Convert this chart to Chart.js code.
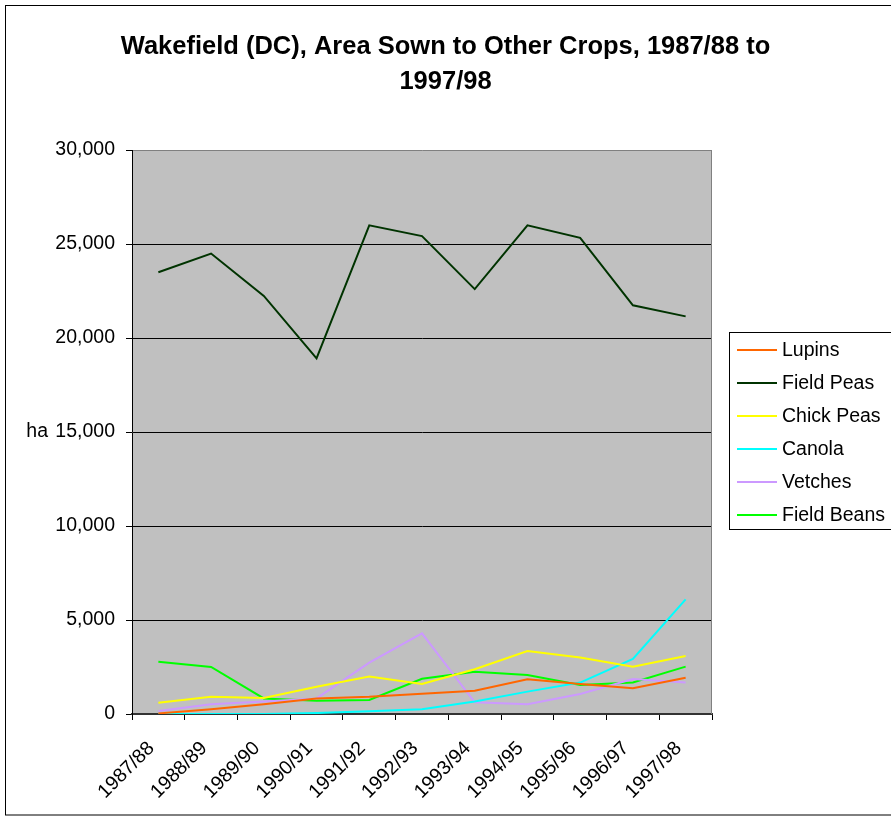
<!DOCTYPE html>
<html>
<head>
<meta charset="utf-8">
<script src="https://cdn.jsdelivr.net/npm/chart.js@4.4.1/dist/chart.umd.min.js"></script>
<style>
  html,body{margin:0;padding:0;background:#fff;}
  #wrap{width:891px;height:821px;}
</style>
</head>
<body>
<div id="wrap"><canvas id="cropChart" width="891" height="821"></canvas></div>
<script>
/* ── DATA (ha) ── */
const seasons = ['1987/88','1988/89','1989/90','1990/91','1991/92','1992/93','1993/94','1994/95','1995/96','1996/97','1997/98'];
const lupins     = [30, 250, 520, 830, 920, 1080, 1240, 1850, 1600, 1370, 1930];
const fieldPeas  = [23500, 24490, 22240, 18920, 25990, 25420, 22600, 25990, 25330, 21740, 21150];
const chickPeas  = [600, 920, 850, 1450, 2000, 1600, 2380, 3350, 3000, 2520, 3090];
const canola     = [0, 0, 0, 50, 150, 250, 660, 1190, 1670, 2930, 6100];
const vetches    = [160, 520, 660, 830, 2730, 4290, 620, 520, 1060, 1860, 1680];
const fieldBeans = [2780, 2500, 830, 700, 750, 1870, 2250, 2070, 1540, 1680, 2520];
const yTicks     = [0, 5000, 10000, 15000, 20000, 25000, 30000];

const titleLines = ['Wakefield (DC), Area Sown to Other Crops, 1987/88 to', '1997/98'];
const yUnit = 'ha';

const FONT = '"Liberation Sans", Arial, sans-serif';

// narrow bold face for the title if the system has it
function titleFont() {
  const c = document.createElement('canvas').getContext('2d');
  c.font = 'bold 29px "Liberation Sans Narrow", monospace';
  const a = c.measureText(titleLines[0]).width;
  c.font = 'bold 29px monospace';
  const b = c.measureText(titleLines[0]).width;
  return a !== b ? {family:'"Liberation Sans Narrow"', size:29} : {family:FONT, size:25.5};
}

const series = [
  {label:'Lupins',      data:lupins,     color:'#FF6600'},
  {label:'Field Peas',  data:fieldPeas,  color:'#003300'},
  {label:'Chick Peas',  data:chickPeas,  color:'#FFFF00'},
  {label:'Canola',      data:canola,     color:'#00FFFF'},
  {label:'Vetches',     data:vetches,    color:'#CC99FF'},
  {label:'Field Beans', data:fieldBeans, color:'#00FF00'}
];

/* ── plot background, frames, unit label, legend ── */
const decor = {
  id:'decor',
  beforeDraw(chart) {
    const {ctx, chartArea:a} = chart;
    ctx.save();
    ctx.fillStyle = '#fff';
    ctx.fillRect(0, 0, chart.width, chart.height);
    ctx.fillStyle = '#C0C0C0';
    ctx.fillRect(a.left, a.top, a.right - a.left, a.bottom - a.top);
    ctx.restore();
  },
  afterDraw(chart) {
    const {ctx, chartArea:a} = chart;
    ctx.save();
    // right edge of plot area
    ctx.strokeStyle = '#808080'; ctx.lineWidth = 1;
    ctx.beginPath(); ctx.moveTo(a.right - 0.5, a.top); ctx.lineTo(a.right - 0.5, a.bottom); ctx.stroke();
    // outer chart frame
    ctx.strokeStyle = '#000';
    ctx.strokeRect(5.5, 5.5, 900, 809.5);
    // unit label
    ctx.fillStyle = '#000';
    ctx.font = '19.5px ' + FONT;
    ctx.textAlign = 'right'; ctx.textBaseline = 'middle';
    ctx.fillText(yUnit, 48, chart.scales.y.getPixelForValue(15000));
    // legend
    const lx = 729.5, ly = 332.5;
    ctx.strokeRect(lx, ly, 200, 197);
    ctx.textAlign = 'left';
    chart.data.datasets.forEach((ds, i) => {
      const y = 350 + i * 33;
      ctx.strokeStyle = ds.borderColor; ctx.lineWidth = 2;
      ctx.beginPath(); ctx.moveTo(737, y); ctx.lineTo(777, y); ctx.stroke();
      ctx.fillStyle = '#000';
      ctx.fillText(ds.label, 782, y + 1);
    });
    ctx.restore();
  }
};

const tf = titleFont();

new Chart(document.getElementById('cropChart').getContext('2d'), {
  type:'line',
  data:{
    labels: seasons,
    datasets: series.map(s => ({
      label:s.label, data:s.data,
      borderColor:s.color, backgroundColor:s.color,
      borderWidth:2, pointRadius:0, tension:0, fill:false
    }))
  },
  options:{
    responsive:false, animation:false, devicePixelRatio:1,
    layout:{padding:{left:0, right:0, top:0, bottom:0}},
    plugins:{
      legend:{display:false},
      tooltip:{enabled:false},
      title:{
        display:true, text:titleLines, color:'#000',
        font:{family:tf.family, size:tf.size, weight:'bold', lineHeight:35/tf.size},
        padding:{top:29, bottom:51}
      }
    },
    scales:{
      x:{
        offset:true,
        grid:{display:true, drawOnChartArea:false, offset:true, color:'#000', tickLength:6},
        border:{color:'#333', width:2},
        ticks:{color:'#000', font:{family:FONT, size:19.5}, minRotation:45, maxRotation:45,
               autoSkip:false, padding:17, labelOffset:-7},
        afterFit(s){ s.height = 107; }
      },
      y:{
        min:0, max:30000,
        afterBuildTicks(s){ s.ticks = yTicks.map(v => ({value:v})); },
        grid:{color:c => c.tick && c.tick.value === 30000 ? '#808080' : '#000', tickColor:'#000', tickLength:6},
        border:{color:'#000', width:1},
        ticks:{color:'#000', font:{family:FONT, size:19.5}, padding:11,
               callback:v => v.toLocaleString('en-US')},
        afterFit(s){ s.width = 132; }
      },
      gap:{
        position:'right', display:true,
        grid:{display:false}, border:{display:false}, ticks:{display:false},
        afterFit(s){ s.width = 891 - 712; }
      }
    }
  },
  plugins:[decor]
});
</script>
</body>
</html>
